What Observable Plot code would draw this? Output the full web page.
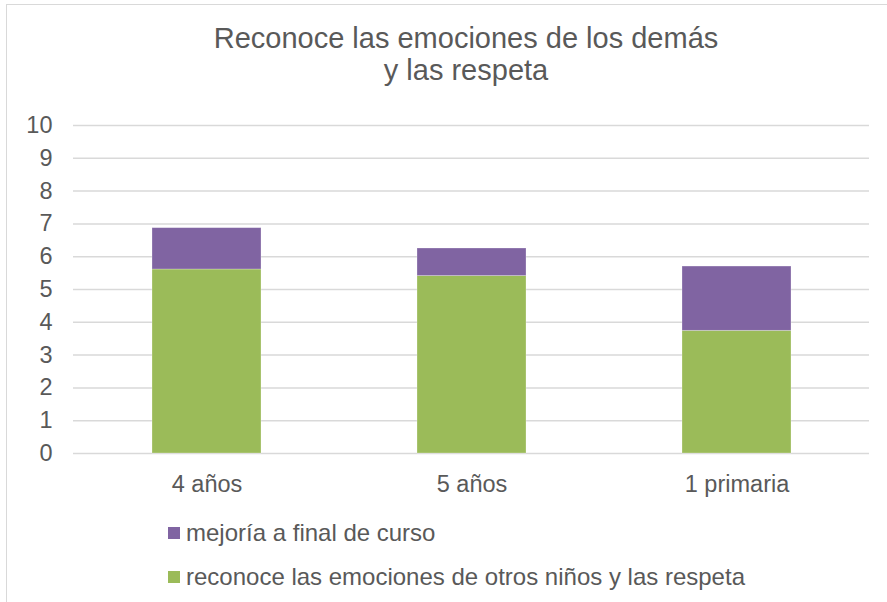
<!DOCTYPE html>
<html>
<head>
<meta charset="utf-8">
<script src="https://cdn.jsdelivr.net/npm/d3@7"></script>
<script src="https://cdn.jsdelivr.net/npm/@observablehq/plot@0.6"></script>
<style>
  html, body { margin: 0; padding: 0; background: #fff; overflow: hidden; }
  body { width: 887px; height: 602px; position: relative; font-family: "Liberation Sans", Arial, sans-serif; color: #595959; }
  #frame { position: absolute; left: 6px; top: 4px; width: 1000px; height: 700px; border: 1.5px solid #d9d9d9; box-sizing: border-box; }
  #title { position: absolute; left: 0; width: 932px; top: 21.5px; text-align: center; font-size: 29px; line-height: 32px; }
  #chart { position: absolute; left: 0; top: 0; }
  .leg { position: absolute; left: 168px; display: flex; align-items: center; font-size: 24px; line-height: 28px; white-space: nowrap; }
  .sw { width: 12px; height: 12px; margin-right: 6px; }
</style>
</head>
<body>
<div id="frame"></div>
<div id="title">Reconoce las emociones de los demás<br>y las respeta</div>
<div id="chart"></div>
<div id="legend"></div>
<script>
const categories = ["4 años", "5 años", "1 primaria"];
const reconoce = [5.61, 5.41, 3.74];
const mejoria = [1.26, 0.84, 1.96];
const seriesNames = ["reconoce las emociones de otros niños y las respeta", "mejoría a final de curso"];
const seriesColors = ["#9BBB59", "#8064A2"];
const yTicks = [0, 1, 2, 3, 4, 5, 6, 7, 8, 9, 10];

const rows = [];
categories.forEach((c, i) => {
  rows.push({cat: c, series: seriesNames[0], value: reconoce[i]});
  rows.push({cat: c, series: seriesNames[1], value: mejoria[i]});
});

const chart = Plot.plot({
  width: 887,
  height: 500,
  marginTop: 125,
  marginBottom: 47,
  marginLeft: 73,
  marginRight: 18,
  style: {fontFamily: '"Liberation Sans", Arial, sans-serif', color: "#595959", background: "transparent", overflow: "visible"},
  x: {domain: categories, paddingInner: 0.59, paddingOuter: 0.295, label: null},
  y: {domain: [0, 10], label: null},
  color: {domain: seriesNames, range: seriesColors},
  marks: [
    Plot.ruleY(yTicks, {stroke: "#d9d9d9", strokeWidth: 1.5}),
    Plot.barY(rows, Plot.stackY({x: "cat", y: "value", fill: "series", order: null, stroke: "#ffffff", strokeOpacity: 0.35, strokeWidth: 0.75})),
    Plot.axisY({ticks: yTicks, tickSize: 0, tickPadding: 21, fontSize: 23.5, fill: "#595959", label: null, tickFormat: d => String(d)}),
    Plot.axisX({tickSize: 0, tickPadding: 22, fontSize: 23.5, fill: "#595959", label: null})
  ]
});
document.getElementById("chart").appendChild(chart);

const legend = document.getElementById("legend");
const legendOrder = [1, 0];
const legendTops = [519, 563];
legendOrder.forEach((si, k) => {
  const d = document.createElement("div");
  d.className = "leg";
  d.style.top = legendTops[k] + "px";
  const sw = document.createElement("span");
  sw.className = "sw";
  sw.style.background = seriesColors[si];
  const t = document.createElement("span");
  t.textContent = seriesNames[si];
  d.appendChild(sw);
  d.appendChild(t);
  legend.appendChild(d);
});
</script>
</body>
</html>
